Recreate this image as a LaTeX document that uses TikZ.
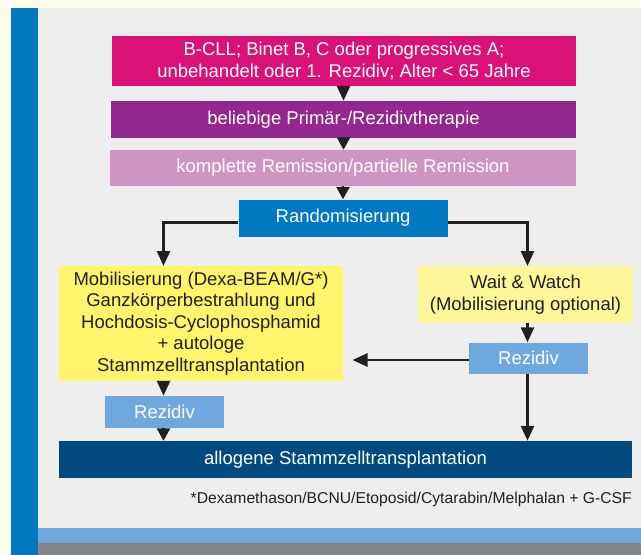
\documentclass[tikz,border=0pt]{standalone}
\usepackage{fontspec}
\setmainfont{Liberation Sans}
\usetikzlibrary{arrows.meta}
\definecolor{cream}{HTML}{FEFDED}
\definecolor{panel}{HTML}{EEEEEE}
\definecolor{barblue}{HTML}{0078C0}
\definecolor{band}{HTML}{6FA8DA}
\definecolor{bottomgray}{HTML}{838589}
\definecolor{cpink}{HTML}{DA1278}
\definecolor{cpurple}{HTML}{92278F}
\definecolor{clpink}{HTML}{CE94C4}
\definecolor{crand}{HTML}{0079C2}
\definecolor{cyel}{HTML}{FFF56C}
\definecolor{cyellight}{HTML}{FFF799}
\definecolor{crez}{HTML}{6FA8DC}
\definecolor{callo}{HTML}{004A7D}
\definecolor{ink}{HTML}{231F20}
\tikzset{
  box/.style={rectangle, inner sep=0pt, align=center, text=white,
    font=\fontsize{18.5pt}{21.5pt}\selectfont},
  darkbox/.style={box, text=ink},
  arr/.style={draw=ink, line width=2.6pt,
    -{Triangle[length=15pt,width=13pt]}},
  shortarr/.style={draw=ink, line width=2.6pt,
    -{Triangle[length=12.5pt,width=13pt]}}
}
\begin{document}
\begin{tikzpicture}[x=1pt,y=-1pt]
\useasboundingbox (0,0) rectangle (641,555);
\fill[cream] (0,0) rectangle (641,555);
\fill[panel] (38,8) rectangle (641,528);
\fill[barblue] (11,8) rectangle (38,555);
\fill[band] (38,528) rectangle (641,543);
\fill[bottomgray] (38,543) rectangle (641,555);

\node[box, fill=cpink, minimum width=464pt, minimum height=50pt] (pink) at (344,61)
  {B-CLL; Binet B, C oder progressives A;\\unbehandelt oder 1. Rezidiv; Alter < 65 Jahre};
\node[box, fill=cpurple, minimum width=465pt, minimum height=37pt] (purple) at (343.5,119.5)
  {beliebige Primär-/Rezidivtherapie};
\node[box, fill=clpink, minimum width=466pt, minimum height=36pt] (lpink) at (343,168)
  {komplette Remission/partielle Remission};
\node[box, fill=crand, minimum width=209pt, minimum height=37pt] (rand) at (343,218)
  {Randomisierung};
\node[darkbox, fill=cyel, minimum width=284pt, minimum height=115pt] (ly) at (201,323.5)
  {Mobilisierung (Dexa-BEAM/G*)\\Ganzkörperbestrahlung und\\Hochdosis-Cyclophosphamid\\+ autologe\\Stammzelltransplantation};
\node[darkbox, fill=cyellight, minimum width=215pt, minimum height=57pt] (ry) at (525.5,294.5)
  {Wait \& Watch\\(Mobilisierung optional)};
\node[box, fill=crez, minimum width=119pt, minimum height=31pt] (rr) at (528.5,358)
  {Rezidiv};
\node[box, fill=crez, minimum width=119pt, minimum height=32pt] (lr) at (164.5,412)
  {Rezidiv};
\node[box, fill=callo, minimum width=573pt, minimum height=37pt] (allo) at (345.5,459.5)
  {allogene Stammzelltransplantation};
\node[anchor=base east, inner sep=0pt, text=ink, font=\fontsize{15.7pt}{18pt}\selectfont] (foot) at (632,503)
  {*Dexamethason/BCNU/Etoposid/Cytarabin/Melphalan + G-CSF};

\coordinate (lyin) at (352.5,360);
\coordinate (lnode) at (163.5,266);
\coordinate (rnode) at (527.5,266);

\draw[arr] (pink.south -| purple.north) -- (purple.north);
\draw[shortarr] (purple.south) -- (lpink.north -| purple.south);
\draw[shortarr] (lpink.south -| rand.north) -- (rand.north);
\draw[arr] ([yshift=-4.5pt]rand.west) -| (lnode);
\draw[arr] ([yshift=-4.5pt]rand.east) -| (rnode);
\draw[arr] (ry.south -| rnode) -- (rr.north -| rnode);
\draw[arr] (rr.west |- lyin) -- (lyin);
\draw[arr] (ly.south -| lnode) -- (lr.north -| lnode);
\draw[shortarr] (lr.south -| lnode) -- (allo.north -| lnode);
\draw[arr] (rr.south -| rnode) -- (allo.north -| rnode);
\end{tikzpicture}
\end{document}
